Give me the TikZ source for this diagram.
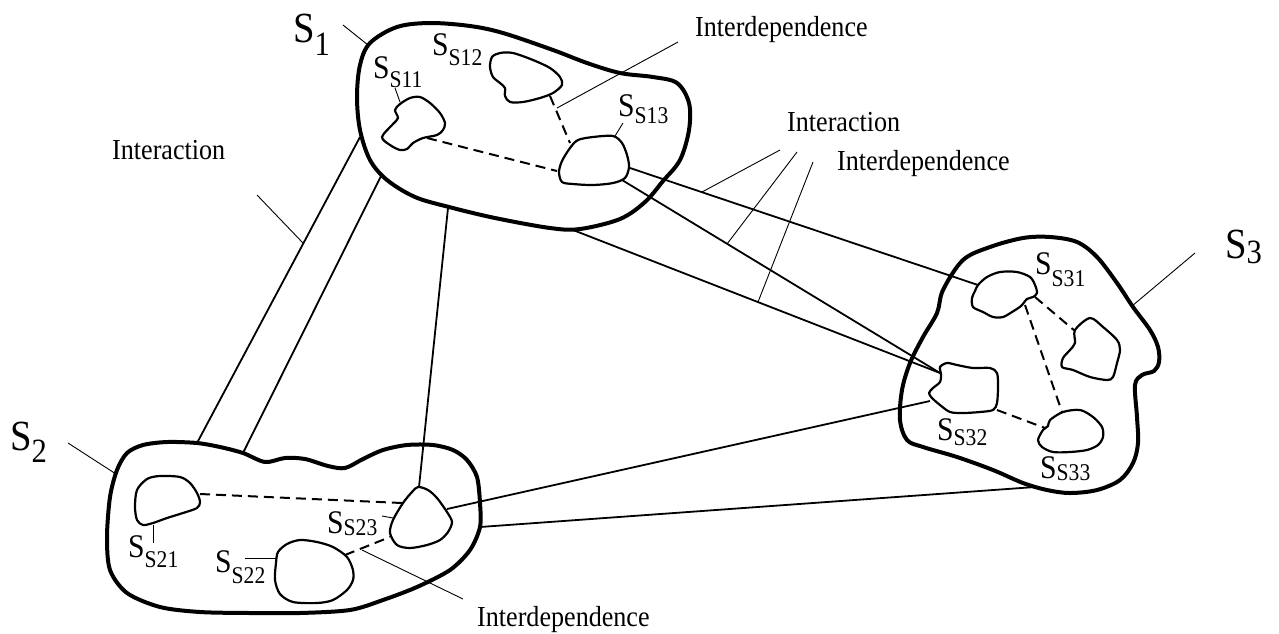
\documentclass[tikz,border=0pt]{standalone}
\usepackage{fontspec}
\setmainfont{Liberation Serif}[FakeStretch=0.9]
\newcommand{\mainlab}[2]{\fontsize{43}{45}\selectfont S\raisebox{-#1pt}{\fontsize{34}{36}\selectfont #2}}
\newcommand{\sublab}[2]{\fontsize{33}{35}\selectfont S\raisebox{-#1pt}{\fontsize{24}{26}\selectfont #2}}
\begin{document}
\begin{tikzpicture}[x=1pt,y=-1pt,
  outer/.style={line width=4pt,line join=round},
  inner/.style={line width=2.2pt,line join=round},
  conn/.style={line width=1.8pt},
  lead/.style={line width=0.9pt},
  dline/.style={line width=2pt,dash pattern=on 10pt off 6pt},
  lab/.style={anchor=base west,inner sep=0pt,font=\fontsize{29}{32}\selectfont}]
\useasboundingbox (0,0) rectangle (1279,633);

% ---------- outer blobs ----------
\draw[outer] plot[smooth cycle,tension=0.55] coordinates {
 (370,43) (397,27) (430,23) (470,26) (503,33) (553,50) (587,63) (620,73)
 (653,77) (677,83) (689,103) (689,130) (680,160) (663,181) (645,202)
 (620,219) (580,229) (550,228) (495,218) (449,207) (415,197) (387,180)
 (370,160) (360,130) (357,97) (360,65)};
\draw[outer] plot[smooth cycle,tension=0.5] coordinates {
 (117,470) (127,453) (143,445) (167,442) (197,443) (220,447) (243,453)
 (265,462) (285,458) (305,459) (328,466) (345,468) (363,459)
 (383,450) (407,445) (433,445) (453,450)
 (467,460) (477,477) (480,503) (480,527) (470,550) (450,570) (417,587)
 (383,600) (350,610) (300,613) (250,613) (200,612) (160,607) (127,593)
 (110,570) (107,537) (110,497)};
\draw[outer] plot[smooth cycle,tension=0.55] coordinates {
 (943,290) (963,260) (990,247) (1023,238) (1050,237) (1077,242) (1097,257)
 (1117,283) (1133,307) (1150,330) (1158,347) (1159,362) (1154,371)
 (1142,375) (1135,385) (1137,417) (1138,443) (1133,463) (1120,480)
 (1097,490) (1070,493) (1047,490) (1023,483) (993,470) (957,457)
 (923,447) (907,440) (900,420) (902,390) (910,363) (923,337) (937,313)};

% ---------- inner blobs ----------
% S_S11
\draw[inner] plot[smooth cycle,tension=0.5] coordinates {
 (382,137) (393,124) (398,118) (395,110) (400,104) (410,98) (420,97)
 (430,103) (440,113) (445,123) (443,130) (437,135) (423,138) (413,143)
 (407,149) (400,150) (390,145)};
% S_S12
\draw[inner] plot[smooth cycle,tension=0.5] coordinates {
 (492,57) (500,53) (513,53) (533,60) (550,68) (560,77) (562,85) (553,93)
 (540,98) (523,102) (510,102) (505,96) (505,88) (500,83) (493,77) (490,67)};
% S_S13
\draw[inner] plot[smooth cycle,tension=0.5] coordinates {
 (559,172) (562,161) (570,148) (578,140) (593,137) (613,136) (622,143)
 (627,155) (629,167) (625,178) (613,183) (593,185) (573,184) (562,182)};
% S_S21
\draw[inner] plot[smooth cycle,tension=0.5] coordinates {
 (137,490) (147,479) (160,476) (180,477) (190,483) (197,493) (200,502)
 (197,508) (183,513) (167,518) (153,523) (143,525) (137,520) (135,507)};
% S_S22
\draw[inner] plot[smooth cycle,tension=0.5] coordinates {
 (278,552) (287,544) (300,540) (317,542) (333,547) (347,557) (353,570)
 (353,580) (347,590) (333,600) (317,603) (293,602) (280,594) (275,580) (276,563)};
% S_S23
\draw[inner] plot[smooth cycle,tension=0.5] coordinates {
 (418,487) (428,490) (437,498) (447,512) (452,522) (448,532) (440,540)
 (427,545) (410,548) (397,545) (390,533) (393,520) (403,503) (412,492)};
% S_S31
\draw[inner] plot[smooth cycle,tension=0.5] coordinates {
 (978,285) (987,277) (1000,272) (1017,272) (1030,277) (1035,285) (1037,293)
 (1033,297) (1027,299) (1021,306) (1012,312) (1003,317) (993,317) (983,312)
 (973,307) (972,298) (975,291)};
% unnamed blob in S3
\draw[inner] plot[smooth cycle,tension=0.5] coordinates {
 (1075,330) (1090,318) (1103,327) (1117,340) (1120,350) (1117,363)
 (1113,377) (1107,380) (1090,377) (1073,370) (1062,367) (1063,358)
 (1070,350) (1075,343)};
% S_S32
\draw[inner] plot[smooth cycle,tension=0.5] coordinates {
 (940,367) (947,363) (957,365) (973,368) (990,368) (997,373) (998,387)
 (997,403) (993,410) (980,412) (963,413) (950,412) (940,405) (932,398)
 (929,393) (933,388) (940,382) (941,374)};
% S_S33
\draw[inner] plot[smooth cycle,tension=0.5] coordinates {
 (1050,420) (1063,412) (1080,410) (1093,417) (1102,427) (1103,437)
 (1098,445) (1087,450) (1070,452) (1053,452) (1042,447) (1038,440)
 (1043,430) (1048,426)};

% ---------- connector end points ----------
\coordinate (c13r) at (630,168);
\coordinate (c13b) at (622,180);
\coordinate (c1b)  at (573,230);
\coordinate (c1l)  at (360,137);
\coordinate (c1l2) at (381,176);
\coordinate (c1b2) at (448,208);
\coordinate (a31)  at (978,285);
\coordinate (a32)  at (940,373);
\coordinate (a32l) at (930,401);
\coordinate (c2t1) at (197,443);
\coordinate (c2t2) at (243,453);
\coordinate (a23t) at (419,487);
\coordinate (a23r) at (447,509);
\coordinate (c2r)  at (480,527);
\coordinate (c3b)  at (1035,487);

\draw[conn] (c13r) -- (a31);
\draw[conn] (c13b) -- (a32);
\draw[conn] (c1b) -- (a32);
\draw[conn] (c1l) -- (c2t1);
\draw[conn] (c1l2) -- (c2t2);
\draw[conn] (c1b2) -- (a23t);
\draw[conn] (a23r) -- (a32l);
\draw[conn] (c2r) -- (c3b);

% ---------- dashed interdependences ----------
\draw[dline] (550,96) -- (570,143);
\draw[dline] (427,138) -- (557,171);
\draw[dline] (200,494) -- (402,503);
\draw[dline] (345,555) -- (390,537);
\draw[dline] (1035,297) -- (1075,331);
\draw[dline] (1025,305) -- (1062,412);
\draw[dline] (997,410) -- (1045,428);

% ---------- labels ----------
\node[lab] (l1) at (293,42) {\mainlab{13}{1}};
\node[lab] (l2) at (10,450) {\mainlab{12}{2}};
\node[lab] (l3) at (1225,258) {\mainlab{5}{3}};
\node[lab] (s11) at (373,78) {\sublab{9}{S11}};
\node[lab] (s12) at (432,55) {\sublab{10}{S12}};
\node[lab] (s13) at (618,116) {\sublab{7}{S13}};
\node[lab] (s21) at (128,557) {\sublab{10}{S21}};
\node[lab] (s22) at (215,572) {\sublab{11}{S22}};
\node[lab] (s23) at (327,533) {\sublab{2}{S23}};
\node[lab] (s31) at (1035,274) {\sublab{12}{S31}};
\node[lab] (s32) at (937,440) {\sublab{5}{S32}};
\node[lab] (s33) at (1040,478) {\sublab{2}{S33}};

\node[lab] (tia) at (112,159) {Interaction};
\node[lab] (tib) at (787,131) {Interaction};
\node[lab] (tdb) at (837,170) {Interdependence};
\node[lab] (tda) at (695,36) {Interdependence};
\node[lab] (tdc) at (477,626) {Interdependence};

% ---------- leader lines ----------
\draw[lead] (343,25) -- (368,45);
\draw[lead] (68,443) -- (116,474);
\draw[lead] (1195,253) -- (1132,306);
\draw[lead] (257,195) -- (303,243);
\draw[lead] (678,42) -- (557,108);
\draw[lead] (780,150) -- (702,192);
\draw[lead] (797,152) -- (727,244);
\draw[lead] (813,162) -- (758,302);
\draw[lead] (463,599) -- (362,550);
\draw[lead] (395,88) -- (400,102);
\draw[lead] (623,123) -- (615,136);
\draw[lead] (153,525) -- (153,543);
\draw[lead] (245,558) -- (277,558);
\draw[lead] (382,516) -- (393,518);
\end{tikzpicture}
\end{document}
